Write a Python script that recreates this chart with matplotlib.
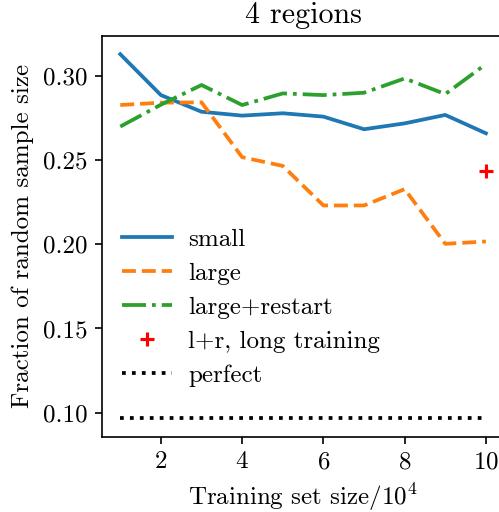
import matplotlib
matplotlib.use("Agg")
import matplotlib.pyplot as plt

plt.rcParams["font.family"] = "serif"
plt.rcParams["font.serif"] = ["cmr10"]
plt.rcParams["mathtext.fontset"] = "cm"
plt.rcParams["axes.formatter.use_mathtext"] = True
plt.rcParams["font.size"] = 12
plt.rcParams["lines.linewidth"] = 1.8

train_size = [1, 2, 3, 4, 5, 6, 7, 8, 9, 10]
small = [0.313, 0.2887, 0.2788, 0.2765, 0.2779, 0.2759, 0.2684, 0.2719, 0.2769, 0.2660]
large = [0.2828, 0.2842, 0.2844, 0.2518, 0.2466, 0.2231, 0.2231, 0.2328, 0.2003, 0.2017]
large_restart = [0.2700, 0.2830, 0.2947, 0.2828, 0.2897, 0.2887, 0.2901, 0.2986, 0.2893, 0.3071]
long_x = [10]
long_y = [0.2437]
perfect = 0.0965

fig = plt.figure(figsize=(499 / 150, 512 / 150), dpi=150)
ax = fig.add_axes([0.2044, 0.1471, 0.806, 0.7826])

ax.plot(train_size, small, "-", color="tab:blue", label="small")
ax.plot(train_size, large, "--", color="tab:orange", label="large")
ax.plot(train_size, large_restart, "-.", color="tab:green", label="large+restart")
ax.plot(long_x, long_y, "+", color="red", markersize=7, markeredgewidth=1.5,
        label="l+r, long training")
ax.plot(train_size, [perfect] * len(train_size), ":", color="black", label="perfect")

ax.set_xticks([2, 4, 6, 8, 10])
ax.set_yticks([0.10, 0.15, 0.20, 0.25, 0.30])
ax.set_yticklabels(["0.10", "0.15", "0.20", "0.25", "0.30"])
ax.set_title("4 regions")
ax.set_xlabel("Training set size/$10^4$")
ax.set_ylabel("Fraction of random sample size")
ax.legend(loc="upper left", bbox_to_anchor=(-0.007, 0.576), frameon=False,
          labelspacing=0.46, handletextpad=0.66)

fig.savefig("out.png", dpi=150)
